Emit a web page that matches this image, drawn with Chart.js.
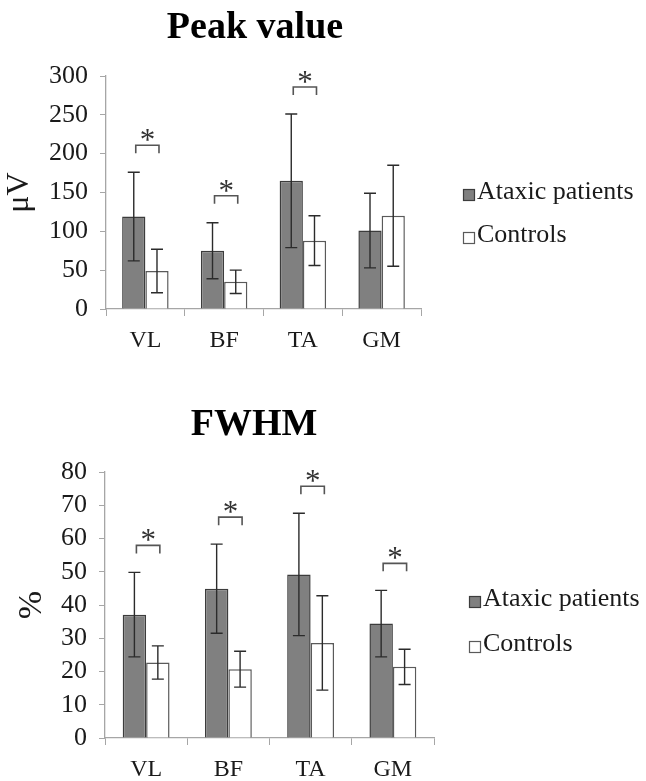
<!DOCTYPE html>
<html>
<head>
<meta charset="utf-8">
<script src="https://cdn.jsdelivr.net/npm/chart.js@4/dist/chart.umd.min.js"></script>
<style>
  html, body { margin: 0; padding: 0; background: #ffffff; }
  .panel { position: relative; width: 646px; }
  canvas { display: block; }
</style>
</head>
<body>
<div class="panel" style="height:390px"><canvas id="peak"></canvas></div>
<div class="panel" style="height:391px"><canvas id="fwhm"></canvas></div>
<script>
// Muscles measured
const muscles = ['VL', 'BF', 'TA', 'GM'];
const seriesNames = ['Ataxic patients', 'Controls'];

// Peak value (µV): means and standard deviations
const peakAtaxic = [119, 75, 165, 101];
const peakAtaxicSD = [57, 36, 86, 48];
const peakControls = [49, 35, 88, 120];
const peakControlsSD = [28, 15, 32, 65];
const peakSignificant = [true, true, true, false];
const peakTicks = [0, 50, 100, 150, 200, 250, 300];

// FWHM (%): means and standard deviations
const fwhmAtaxic = [37.1, 44.9, 49.2, 34.4];
const fwhmAtaxicSD = [12.7, 13.4, 18.4, 10.0];
const fwhmControls = [22.7, 20.7, 28.6, 21.4];
const fwhmControlsSD = [5.0, 5.4, 14.2, 5.3];
const fwhmSignificant = [true, true, true, true];
const fwhmTicks = [0, 10, 20, 30, 40, 50, 60, 70, 80];

const SERIF = "'Liberation Serif', 'Times New Roman', serif";
const AXIS_GREY = '#a6a6a6';
const TEXT = '#1a1a1a';

// Error bars, significance brackets, title and legend
const decorations = {
  id: 'decorations',
  afterDatasetsDraw(chart, args, opts) {
    const ctx = chart.ctx;
    const y = chart.scales.y;
    ctx.save();
    // error bars
    ctx.strokeStyle = '#2b2b2b';
    ctx.lineWidth = 1.4;
    chart.data.datasets.forEach((ds, di) => {
      const meta = chart.getDatasetMeta(di);
      meta.data.forEach((bar, i) => {
        const m = ds.data[i], sd = ds.sd[i];
        const yt = y.getPixelForValue(m + sd);
        const yb = y.getPixelForValue(m - sd);
        const cap = 6;
        ctx.beginPath();
        ctx.moveTo(bar.x, yt); ctx.lineTo(bar.x, yb);
        ctx.moveTo(bar.x - cap, yt); ctx.lineTo(bar.x + cap, yt);
        ctx.moveTo(bar.x - cap, yb); ctx.lineTo(bar.x + cap, yb);
        ctx.stroke();
      });
    });
    // significance brackets with asterisks
    const a = chart.getDatasetMeta(0).data;
    const c = chart.getDatasetMeta(1).data;
    const d0 = chart.data.datasets[0], d1 = chart.data.datasets[1];
    opts.significant.forEach((sig, i) => {
      if (!sig) return;
      const top = Math.max(d0.data[i] + d0.sd[i], d1.data[i] + d1.sd[i]);
      const by = y.getPixelForValue(top) - 27;
      const x1 = a[i].x + 2, x2 = c[i].x + 2;
      ctx.strokeStyle = '#555555';
      ctx.lineWidth = 1.6;
      ctx.beginPath();
      ctx.moveTo(x1, by + 8); ctx.lineTo(x1, by); ctx.lineTo(x2, by); ctx.lineTo(x2, by + 8);
      ctx.stroke();
      ctx.fillStyle = '#333333';
      ctx.font = '31px ' + SERIF;
      ctx.textAlign = 'center';
      ctx.textBaseline = 'alphabetic';
      ctx.fillText('*', (x1 + x2) / 2, by + 5);
    });
    // title
    ctx.fillStyle = '#000000';
    ctx.font = 'bold 38px ' + SERIF;
    ctx.textAlign = 'center';
    ctx.textBaseline = 'alphabetic';
    ctx.fillText(opts.title, opts.titleX, opts.titleY);
    // legend
    ctx.font = '26px ' + SERIF;
    ctx.textAlign = 'left';
    chart.data.datasets.forEach((ds, di) => {
      const cy = opts.legendY + di * opts.legendGap;
      const bx = opts.legendX, s = 12;
      ctx.fillStyle = ds.backgroundColor;
      ctx.fillRect(bx, cy - s / 2, s, s);
      ctx.strokeStyle = ds.borderColor;
      ctx.lineWidth = 1.2;
      ctx.strokeRect(bx + 0.5, cy - s / 2 + 0.5, s - 1, s - 1);
      ctx.fillStyle = TEXT;
      ctx.fillText(ds.label, bx + s + 2, cy + 4);
    });
    ctx.restore();
  }
};

function makeChart(id, cfg) {
  return new Chart(document.getElementById(id), {
    type: 'bar',
    data: {
      labels: muscles,
      datasets: [
        { label: seriesNames[0], data: cfg.ataxic, sd: cfg.ataxicSD,
          backgroundColor: '#808080', borderColor: '#3c3c3c', borderWidth: 1.5 },
        { label: seriesNames[1], data: cfg.controls, sd: cfg.controlsSD,
          backgroundColor: '#ffffff', borderColor: '#5a5a5a', borderWidth: 1.5 }
      ]
    },
    options: {
      responsive: true,
      maintainAspectRatio: false,
      animation: false,
      datasets: { bar: { barPercentage: 1.0, categoryPercentage: cfg.catPct } },
      layout: { padding: cfg.padding },
      plugins: {
        legend: { display: false },
        tooltip: { enabled: false },
        decorations: cfg.deco
      },
      scales: {
        x: {
          grid: { drawOnChartArea: false, tickLength: 7, color: AXIS_GREY, offset: true },
          border: { color: AXIS_GREY, width: 1.3 },
          ticks: { font: { family: SERIF, size: 24 }, color: TEXT, padding: 10 },
          afterFit: (s) => { s.height = cfg.xHeight; }
        },
        y: {
          min: cfg.ticks[0],
          max: cfg.ticks[cfg.ticks.length - 1],
          afterBuildTicks: (s) => { s.ticks = cfg.ticks.map(v => ({ value: v })); },
          grid: { drawOnChartArea: false, tickLength: 6, color: AXIS_GREY },
          border: { color: AXIS_GREY, width: 1.3 },
          ticks: { font: { family: SERIF, size: 26 }, color: TEXT, padding: 12, autoSkip: false },
          title: { display: true, text: cfg.yTitle, color: TEXT,
                   font: { family: SERIF, size: cfg.yTitleSize }, padding: { top: cfg.yTitlePad } },
          afterFit: (s) => { s.width = cfg.yWidth; }
        }
      }
    },
    plugins: [decorations]
  });
}

makeChart('peak', {
  ataxic: peakAtaxic, ataxicSD: peakAtaxicSD,
  controls: peakControls, controlsSD: peakControlsSD,
  ticks: peakTicks, catPct: 0.59,
  padding: { top: 76, left: 0, right: 225, bottom: 0 },
  xHeight: 81, yWidth: 106, yTitle: 'μV', yTitleSize: 32, yTitlePad: 0,
  deco: { significant: peakSignificant, title: 'Peak value', titleX: 255, titleY: 38,
          legendX: 463, legendY: 195, legendGap: 43 }
});

makeChart('fwhm', {
  ataxic: fwhmAtaxic, ataxicSD: fwhmAtaxicSD,
  controls: fwhmControls, controlsSD: fwhmControlsSD,
  ticks: fwhmTicks, catPct: 0.57,
  padding: { top: 82, left: 0, right: 212, bottom: 0 },
  xHeight: 43, yWidth: 105, yTitle: '%', yTitleSize: 34, yTitlePad: 12,
  deco: { significant: fwhmSignificant, title: 'FWHM', titleX: 254, titleY: 45,
          legendX: 469, legendY: 212, legendGap: 45 }
});
</script>
</body>
</html>
